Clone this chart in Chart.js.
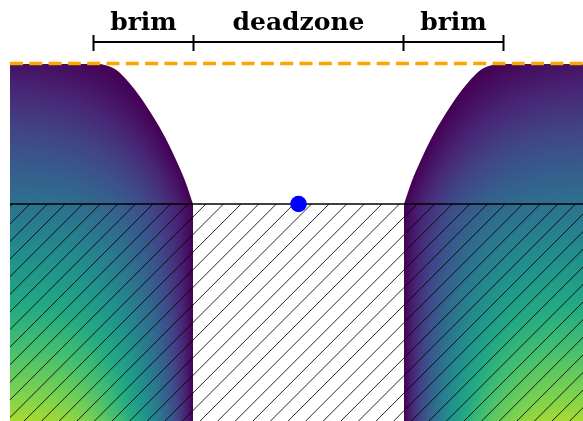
<!DOCTYPE html>
<html>
<head>
<meta charset="utf-8">
<script src="https://cdn.jsdelivr.net/npm/chart.js@4/dist/chart.umd.min.js"></script>
<style>
  html, body { margin: 0; padding: 0; background: #fff; }
  #wrap { width: 583px; height: 421px; position: relative; }
</style>
</head>
<body>
<div id="wrap"><canvas id="chart1"></canvas></div>
<script>
// brim profile: distance from the centre vs height above the surface
const brimDist   = [2.00, 1.92, 1.82, 1.70, 1.575, 1.445, 1.33, 1.215, 1.13, 1.055];
const brimHeight = [1.40, 1.385, 1.34, 1.22, 1.06, 0.86, 0.66, 0.42, 0.22, 0.00];

const plateEdge = 2.885;      // where the coloured plate starts on the left
const fillLevel = 1.405;      // orange dashed line
const surfaceLevel = 0;
const bracketTicks = [-2.05, -1.05, 1.05, 2.05];
const bracketLevel = 1.62;
const tickTop = 1.69;
const tickBottom = 1.53;
const bracketLabels = ['brim', 'deadzone', 'brim'];
const labelLevel = 1.74;
const pointX = [0];
const pointY = [0];

// viridis colour stops
const viridis = ['#440154', '#482475', '#414487', '#355f8d', '#2a788e', '#21918c',
  '#22a884', '#44bf70', '#7ad151', '#bddf26', '#fde725'];

const viridisRgb = viridis.map(h => [1, 3, 5].map(i => parseInt(h.substr(i, 2), 16)));

function viridisAt(v) {
  v = Math.max(0, Math.min(1, v)) * (viridisRgb.length - 1);
  const i = Math.min(Math.floor(v), viridisRgb.length - 2);
  const t = v - i;
  const a = viridisRgb[i], b = viridisRgb[i + 1];
  return [a[0] + (b[0] - a[0]) * t, a[1] + (b[1] - a[1]) * t, a[2] + (b[2] - a[2]) * t];
}

// edge of the solid at a given height (linear along the profile)
function edgeAt(y) {
  if (y <= 0) return brimDist[brimDist.length - 1];
  if (y >= brimHeight[0]) return brimDist[0];
  for (let i = 0; i < brimHeight.length - 1; i++) {
    if (y <= brimHeight[i] && y >= brimHeight[i + 1]) {
      const t = (y - brimHeight[i + 1]) / (brimHeight[i] - brimHeight[i + 1]);
      return brimDist[i + 1] + (brimDist[i] - brimDist[i + 1]) * t;
    }
  }
  return brimDist[0];
}

function shade(x, y) {
  const s = Math.max(0, Math.min(1, (Math.abs(x) - edgeAt(y)) / 1.83));
  const h = 1 - Math.pow(1 - s, 3);
  const k = 0.05 + 0.228 * (1.41 - y);
  return h * k;
}

let fieldCache = null;
function fieldPattern(chart) {
  if (!chart.chartArea) return '#440154';
  const w = chart.width, hgt = chart.height;
  if (fieldCache && fieldCache.w === w && fieldCache.h === hgt) return fieldCache.pattern;
  const xs = chart.scales.x, ys = chart.scales.y;
  const off = document.createElement('canvas');
  off.width = w; off.height = hgt;
  const octx = off.getContext('2d');
  const img = octx.createImageData(w, hgt);
  const colX = [], rowY = [];
  for (let i = 0; i < w; i++) colX.push(xs.getValueForPixel(i + 0.5));
  for (let j = 0; j < hgt; j++) rowY.push(ys.getValueForPixel(j + 0.5));
  for (let j = 0; j < hgt; j++) {
    for (let i = 0; i < w; i++) {
      const c = viridisAt(shade(colX[i], rowY[j]));
      const p = (j * w + i) * 4;
      img.data[p] = c[0]; img.data[p + 1] = c[1]; img.data[p + 2] = c[2]; img.data[p + 3] = 255;
    }
  }
  octx.putImageData(img, 0, 0);
  const pattern = chart.ctx.createPattern(off, 'no-repeat');
  fieldCache = { w: w, h: hgt, pattern: pattern };
  return pattern;
}

let hatchCache = null;
function hatchPattern(chart) {
  if (hatchCache) return hatchCache;
  const t = document.createElement('canvas');
  t.width = 88; t.height = 88;
  const c = t.getContext('2d');
  c.strokeStyle = 'rgba(0,0,0,0.85)';
  c.lineWidth = 1;
  for (let k = -2; k < 12; k++) {
    const C = 5.1 + 17.6 * k;
    c.beginPath();
    c.moveTo(C + 20, -20);
    c.lineTo(C - 108, 108);
    c.stroke();
  }
  hatchCache = chart.ctx.createPattern(t, 'repeat');
  return hatchCache;
}

const leftPts = [{ x: -plateEdge, y: brimHeight[0] }]
  .concat(brimDist.map((d, i) => ({ x: -d, y: brimHeight[i] })));
const rightPts = brimDist.map((d, i) => ({ x: d, y: brimHeight[i] })).reverse()
  .concat([{ x: plateEdge + 0.1, y: brimHeight[0] }]);

let tickPts = [];
bracketTicks.forEach(t => {
  tickPts.push({ x: t, y: tickTop }, { x: t, y: tickBottom }, { x: t, y: null });
});

const labelPlugin = {
  id: 'bracketLabels',
  afterDatasetsDraw(chart) {
    const ctx = chart.ctx;
    const xs = chart.scales.x, ys = chart.scales.y;
    ctx.save();
    ctx.font = 'bold 25px "DejaVu Serif"';
    ctx.fillStyle = '#000';
    ctx.textAlign = 'center';
    ctx.textBaseline = 'alphabetic';
    bracketLabels.forEach((txt, i) => {
      const mid = (bracketTicks[i] + bracketTicks[i + 1]) / 2;
      ctx.fillText(txt, xs.getPixelForValue(mid), ys.getPixelForValue(labelLevel));
    });
    ctx.restore();
  }
};

const chart1 = new Chart(document.querySelector('#chart1'), {
  type: 'scatter',
  data: {
    datasets: [
      {
        label: 'point',
        data: pointX.map((x, i) => ({ x: x, y: pointY[i] })),
        pointRadius: 8.3,
        pointBackgroundColor: '#0000ff',
        pointBorderColor: '#0000ff',
        pointBorderWidth: 0,
        order: 0
      },
      {
        label: 'bracket',
        data: [{ x: bracketTicks[0], y: bracketLevel }, { x: bracketTicks[3], y: bracketLevel }],
        showLine: true,
        borderColor: '#000',
        borderWidth: 2,
        pointRadius: 0,
        order: 0
      },
      {
        label: 'ticks',
        data: tickPts,
        showLine: true,
        spanGaps: false,
        borderColor: '#000',
        borderWidth: 2,
        pointRadius: 0,
        order: 0
      },
      {
        label: 'fill level',
        data: [{ x: -plateEdge, y: fillLevel }, { x: plateEdge + 0.1, y: fillLevel }],
        showLine: true,
        borderColor: '#ffa500',
        borderWidth: 3.3,
        borderDash: [13, 6.3],
        pointRadius: 0,
        order: 1
      },
      {
        label: 'surface',
        data: [{ x: -plateEdge, y: surfaceLevel }, { x: plateEdge + 0.1, y: surfaceLevel }],
        showLine: true,
        fill: 'start',
        backgroundColor: (c) => hatchPattern(c.chart),
        borderColor: '#000',
        borderWidth: 1.3,
        pointRadius: 0,
        order: 2
      },
      {
        label: 'left',
        data: leftPts,
        showLine: true,
        fill: 'start',
        cubicInterpolationMode: 'monotone',
        backgroundColor: (c) => fieldPattern(c.chart),
        borderColor: 'rgba(0,0,0,0)',
        borderWidth: 0,
        pointRadius: 0,
        order: 3
      },
      {
        label: 'right',
        data: rightPts,
        showLine: true,
        fill: 'start',
        cubicInterpolationMode: 'monotone',
        backgroundColor: (c) => fieldPattern(c.chart),
        borderColor: 'rgba(0,0,0,0)',
        borderWidth: 0,
        pointRadius: 0,
        order: 3
      }
    ]
  },
  options: {
    responsive: true,
    maintainAspectRatio: false,
    animation: false,
    layout: { padding: 0, autoPadding: false },
    plugins: { legend: { display: false }, tooltip: { enabled: false } },
    scales: {
      x: { type: 'linear', min: -2.985, max: 2.845, display: false },
      y: { type: 'linear', min: -2.17, max: 2.04, display: false }
    }
  },
  plugins: [labelPlugin]
});
</script>
</body>
</html>
